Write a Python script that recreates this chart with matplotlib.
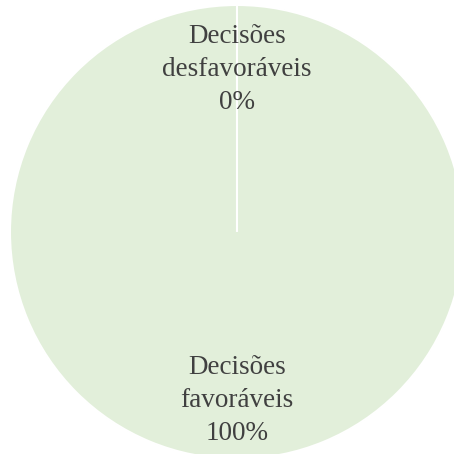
import matplotlib
matplotlib.use("Agg")
from matplotlib import pyplot as plt

# Dados
categorias = ["Decisões\ndesfavoráveis", "Decisões\nfavoráveis"]
valores = [0, 100]
cores = ["#e2efda", "#e2efda"]


def main() -> None:
    total = sum(valores)
    rotulos = [f"{c}\n{v / total * 100:.0f}%" for c, v in zip(categorias, valores)]

    fig = plt.figure(figsize=(4.54, 4.54), dpi=100)
    ax = fig.add_axes([0, 0, 1, 1])

    wedges, textos = ax.pie(
        valores,
        labels=rotulos,
        colors=cores,
        startangle=90,
        labeldistance=0.73,
        wedgeprops={"edgecolor": "white", "linewidth": 1.5},
        textprops={"family": "Liberation Serif", "fontsize": 19.5, "color": "#404040"},
    )
    # fatia de 0% por cima, para a linha branca aparecer
    wedges[0].set_zorder(3)
    for t in textos:
        t.set_ha("center")
        t.set_va("center")
        t.set_linespacing(1.42)
        t.set_zorder(4)
        x, y = t.get_position()
        t.set_position((x, y - 0.014))

    ax.set_xlim(-1.044, 0.956)
    ax.set_ylim(-0.978, 1.022)
    ax.set_aspect("auto")

    fig.savefig("out.png", dpi=100, facecolor="white")


if __name__ == "__main__":
    main()
